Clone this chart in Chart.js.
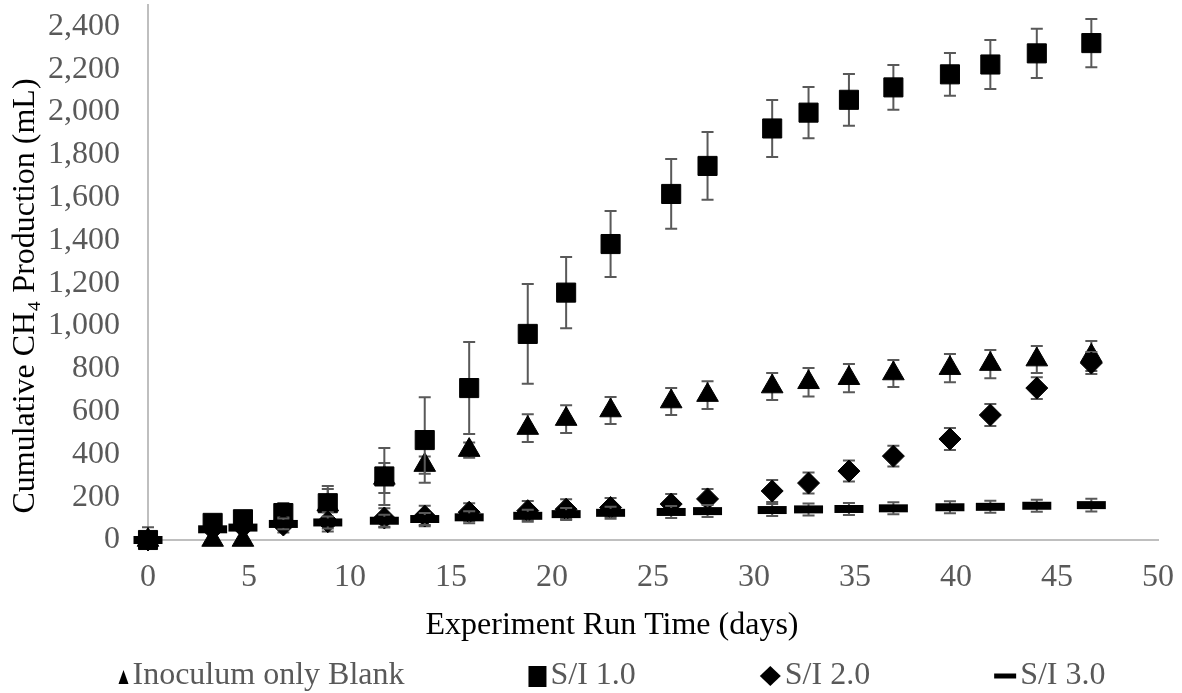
<!DOCTYPE html>
<html>
<head>
<meta charset="utf-8">
<script src="https://cdn.jsdelivr.net/npm/chart.js@4.4.0/dist/chart.umd.min.js"></script>
<style>
html, body { margin: 0; padding: 0; background: #fff; }
canvas { display: block; }
</style>
</head>
<body>
<canvas id="ch4Chart" width="1182" height="693"></canvas>
<script>
// run time (days)
const days = [0, 3.2, 4.7, 6.7, 8.9, 11.7, 13.7, 15.9, 18.8, 20.7, 22.9, 25.9, 27.7, 30.9, 32.7, 34.7, 36.9, 39.7, 41.7, 44.0, 46.7];

// cumulative CH4 (mL) and error (+/-)
const blank    = [0, 0, 0, 110, 165, 290, 350, 420, 523, 565, 605, 647, 677, 717, 737, 756, 778, 803, 822, 843, 860];
const blankErr = [60, 0, 0, 50, 73, 70, 40, 36, 65, 65, 63, 63, 65, 63, 67, 66, 63, 66, 66, 63, 70];

const si1    = [0, 80, 97, 126, 172, 297, 467, 710, 963, 1156, 1383, 1617, 1748, 1923, 1997, 2057, 2115, 2176, 2222, 2274, 2322];
const si1Err = [0, 0, 0, 47, 80, 133, 200, 215, 233, 166, 154, 163, 158, 133, 120, 121, 105, 100, 115, 115, 113];

const si2    = [0, 50, 60, 70, 85, 103, 112, 130, 137, 144, 152, 168, 192, 229, 266, 322, 392, 472, 584, 710, 827];
const si2Err = [0, 0, 0, 35, 45, 45, 48, 42, 45, 46, 44, 47, 46, 51, 49, 49, 49, 51, 51, 51, 51];

const si3    = [0, 50, 58, 75, 82, 90, 98, 106, 113, 121, 127, 131, 135, 140, 143, 145, 148, 153, 155, 160, 163];
const si3Err = [0, 0, 0, 25, 28, 28, 28, 28, 28, 28, 28, 28, 28, 28, 28, 28, 28, 28, 28, 28, 30];

const seriesNames = ["Inoculum only Blank", "S/I 1.0", "S/I 2.0", "S/I 3.0"];

const FONT = "'Liberation Serif', 'Times New Roman', serif";
const GREY = "#595959";

function points(values) {
    return days.map((d, i) => ({ x: d, y: values[i] }));
}

// error bars, drawn just before each series' markers
const errorBars = {
    id: "errorBars",
    beforeDatasetDraw(chart, args) {
        const ds = chart.data.datasets[args.index];
        if (!ds.errors) return;
        const xs = chart.scales.x;
        const ys = chart.scales.y;
        const ctx = chart.ctx;
        ctx.save();
        ctx.strokeStyle = GREY;
        ctx.lineWidth = 2;
        ds.data.forEach((p, i) => {
            const e = ds.errors[i];
            if (!e) return;
            const px = xs.getPixelForValue(p.x);
            const top = ys.getPixelForValue(p.y + e);
            const low = Math.max(p.y - e, 0);
            const bot = ys.getPixelForValue(low);
            ctx.beginPath();
            ctx.moveTo(px, top);
            ctx.lineTo(px, bot);
            ctx.moveTo(px - 6, top);
            ctx.lineTo(px + 6, top);
            if (low > 0) {
                ctx.moveTo(px - 6, bot);
                ctx.lineTo(px + 6, bot);
            }
            ctx.stroke();
        });
        ctx.restore();
    }
};

// axis titles + legend, laid out like the spreadsheet original
const titlesAndLegend = {
    id: "titlesAndLegend",
    afterDraw(chart) {
        const ctx = chart.ctx;
        ctx.save();

        ctx.font = "32px " + FONT;
        ctx.fillStyle = "#000";
        ctx.textAlign = "center";
        ctx.textBaseline = "middle";
        ctx.fillText("Experiment Run Time (days)", 612, 626);

        ctx.save();
        ctx.translate(26, 296);
        ctx.rotate(-Math.PI / 2);
        ctx.fillText("Cumulative CH\u2084 Production (mL)", 0, 0);
        ctx.restore();

        // legend
        const markW = { triangle: 10, rect: 18, rectRot: 21, line: 22 };
        const gap = 124;
        const items = chart.data.datasets.map(ds => {
            const tw = ctx.measureText(ds.label).width;
            const mw = markW[ds.pointStyle];
            return { ds, tw, mw, w: mw + 4 + tw };
        });
        const total = items.reduce((s, it) => s + it.w, 0) + gap * (items.length - 1);
        let x = 612 - total / 2;
        const cy = 676;
        ctx.textAlign = "left";
        items.forEach(it => {
            ctx.fillStyle = "#000";
            ctx.beginPath();
            const cx = x + it.mw / 2;
            if (it.ds.pointStyle === "triangle") {
                ctx.moveTo(cx, cy - 6);
                ctx.lineTo(cx + 5, cy + 8);
                ctx.lineTo(cx - 5, cy + 8);
                ctx.closePath();
            } else if (it.ds.pointStyle === "rect") {
                ctx.rect(cx - 9, cy - 10, 18, 21);
            } else if (it.ds.pointStyle === "rectRot") {
                ctx.moveTo(cx, cy - 10);
                ctx.lineTo(cx + 10.5, cy);
                ctx.lineTo(cx, cy + 10);
                ctx.lineTo(cx - 10.5, cy);
                ctx.closePath();
            } else {
                ctx.rect(cx - 11, cy - 2.5, 22, 5);
            }
            ctx.fill();
            ctx.fillStyle = GREY;
            ctx.fillText(it.ds.label, x + it.mw + 4, cy);
            x += it.w + gap;
        });

        ctx.restore();
    }
};

const marker = {
    showLine: false,
    clip: false,
    backgroundColor: "#000",
    borderColor: "#000",
    pointBackgroundColor: "#000",
    pointBorderColor: "#000",
    pointBorderWidth: 1
};

new Chart(document.getElementById("ch4Chart"), {
    type: "scatter",
    data: {
        datasets: [
            {
                ...marker,
                label: seriesNames[0],
                data: points(blank),
                errors: blankErr,
                pointStyle: "triangle",
                pointRadius: 12.5,
                order: 3
            },
            {
                ...marker,
                label: seriesNames[1],
                data: points(si1),
                errors: si1Err,
                pointStyle: "rect",
                pointRadius: 13.5,
                order: 2
            },
            {
                ...marker,
                label: seriesNames[2],
                data: points(si2),
                errors: si2Err,
                pointStyle: "rectRot",
                pointRadius: 11,
                order: 1
            },
            {
                ...marker,
                label: seriesNames[3],
                data: points(si3),
                errors: si3Err,
                pointStyle: "line",
                pointRadius: 14.5,
                pointBorderWidth: 8,
                order: 0
            }
        ]
    },
    options: {
        responsive: false,
        animation: false,
        events: [],
        layout: {
            autoPadding: false,
            padding: { top: 5, right: 24, bottom: 43, left: 0 }
        },
        plugins: {
            legend: { display: false },
            tooltip: { enabled: false }
        },
        scales: {
            x: {
                type: "linear",
                min: 0,
                max: 50,
                grid: { display: false, drawTicks: false },
                border: { display: true, color: "#bfbfbf", width: 2 },
                ticks: {
                    stepSize: 5,
                    padding: 18,
                    color: GREY,
                    font: { family: FONT, size: 32 }
                },
                afterFit(scale) {
                    scale.height = 110;
                    scale.paddingLeft = 0;
                    scale.paddingRight = 0;
                }
            },
            y: {
                min: 0,
                max: 2500,
                grid: { display: false, drawTicks: false },
                border: { display: true, color: "#bfbfbf", width: 2 },
                ticks: {
                    stepSize: 200,
                    includeBounds: false,
                    padding: 28,
                    color: GREY,
                    font: { family: FONT, size: 32 },
                    callback: v => v.toLocaleString("en-US")
                },
                afterFit(scale) {
                    scale.width = 148;
                    scale.paddingTop = 0;
                    scale.paddingBottom = 0;
                }
            }
        }
    },
    plugins: [errorBars, titlesAndLegend]
});
</script>
</body>
</html>
